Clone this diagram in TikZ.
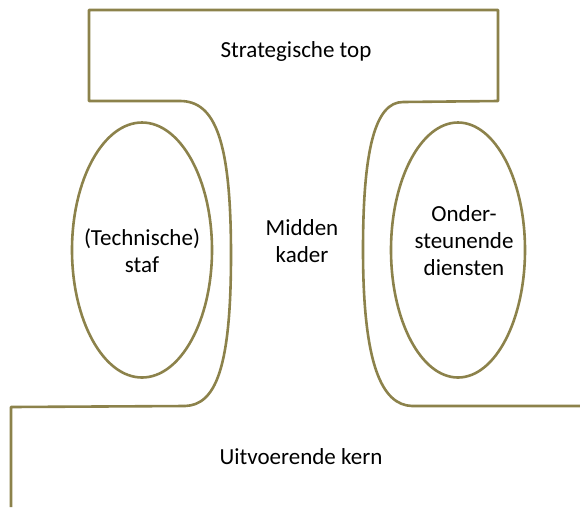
\documentclass[tikz,border=0pt]{standalone}
\usepackage{fontspec}
\setmainfont{Carlito}
\usetikzlibrary{shapes.geometric}
\definecolor{olijf}{RGB}{140,130,75}
\begin{document}
\begin{tikzpicture}[x=1pt, y=-1pt, line join=round,
  rand/.style={draw=olijf, line width=2.6pt},
  tekst/.style={font=\fontsize{23}{27}\selectfont, align=center, text=black}]
  \useasboundingbox (0,0) rectangle (580,507);

  % Strategische top with the left and right flanks
  \draw[rand] (185,406) .. controls (215,405) and (231,370) .. (231,255)
    .. controls (231,140) and (215,101) .. (180,101)
    -- (89,101) -- (89,10) -- (498,10) -- (498,101) -- (403,102)
    .. controls (375,102) and (363,150) .. (363,250)
    .. controls (363,365) and (382,405) .. (412,406) -- (580,406);

  % Uitvoerende kern
  \draw[rand] (185,406) -- (11,407) -- (11,507);

  % Ellipses
  \node[rand, ellipse, minimum width=140, minimum height=255] (staf) at (142,250) {};
  \node[rand, ellipse, minimum width=134, minimum height=255] (diensten) at (458,250) {};

  % Labels
  \node[tekst] (top) at (296,51) {Strategische top};
  \node[tekst] (stafTekst) at (142,251) {(Technische)\\staf};
  \node[tekst] (kader) at (302,241) {Midden\\kader};
  \node[tekst] (dienstenTekst) at (464,241) {Onder-\\steunende\\diensten};
  \node[tekst] (kern) at (301,457) {Uitvoerende kern};
\end{tikzpicture}
\end{document}
